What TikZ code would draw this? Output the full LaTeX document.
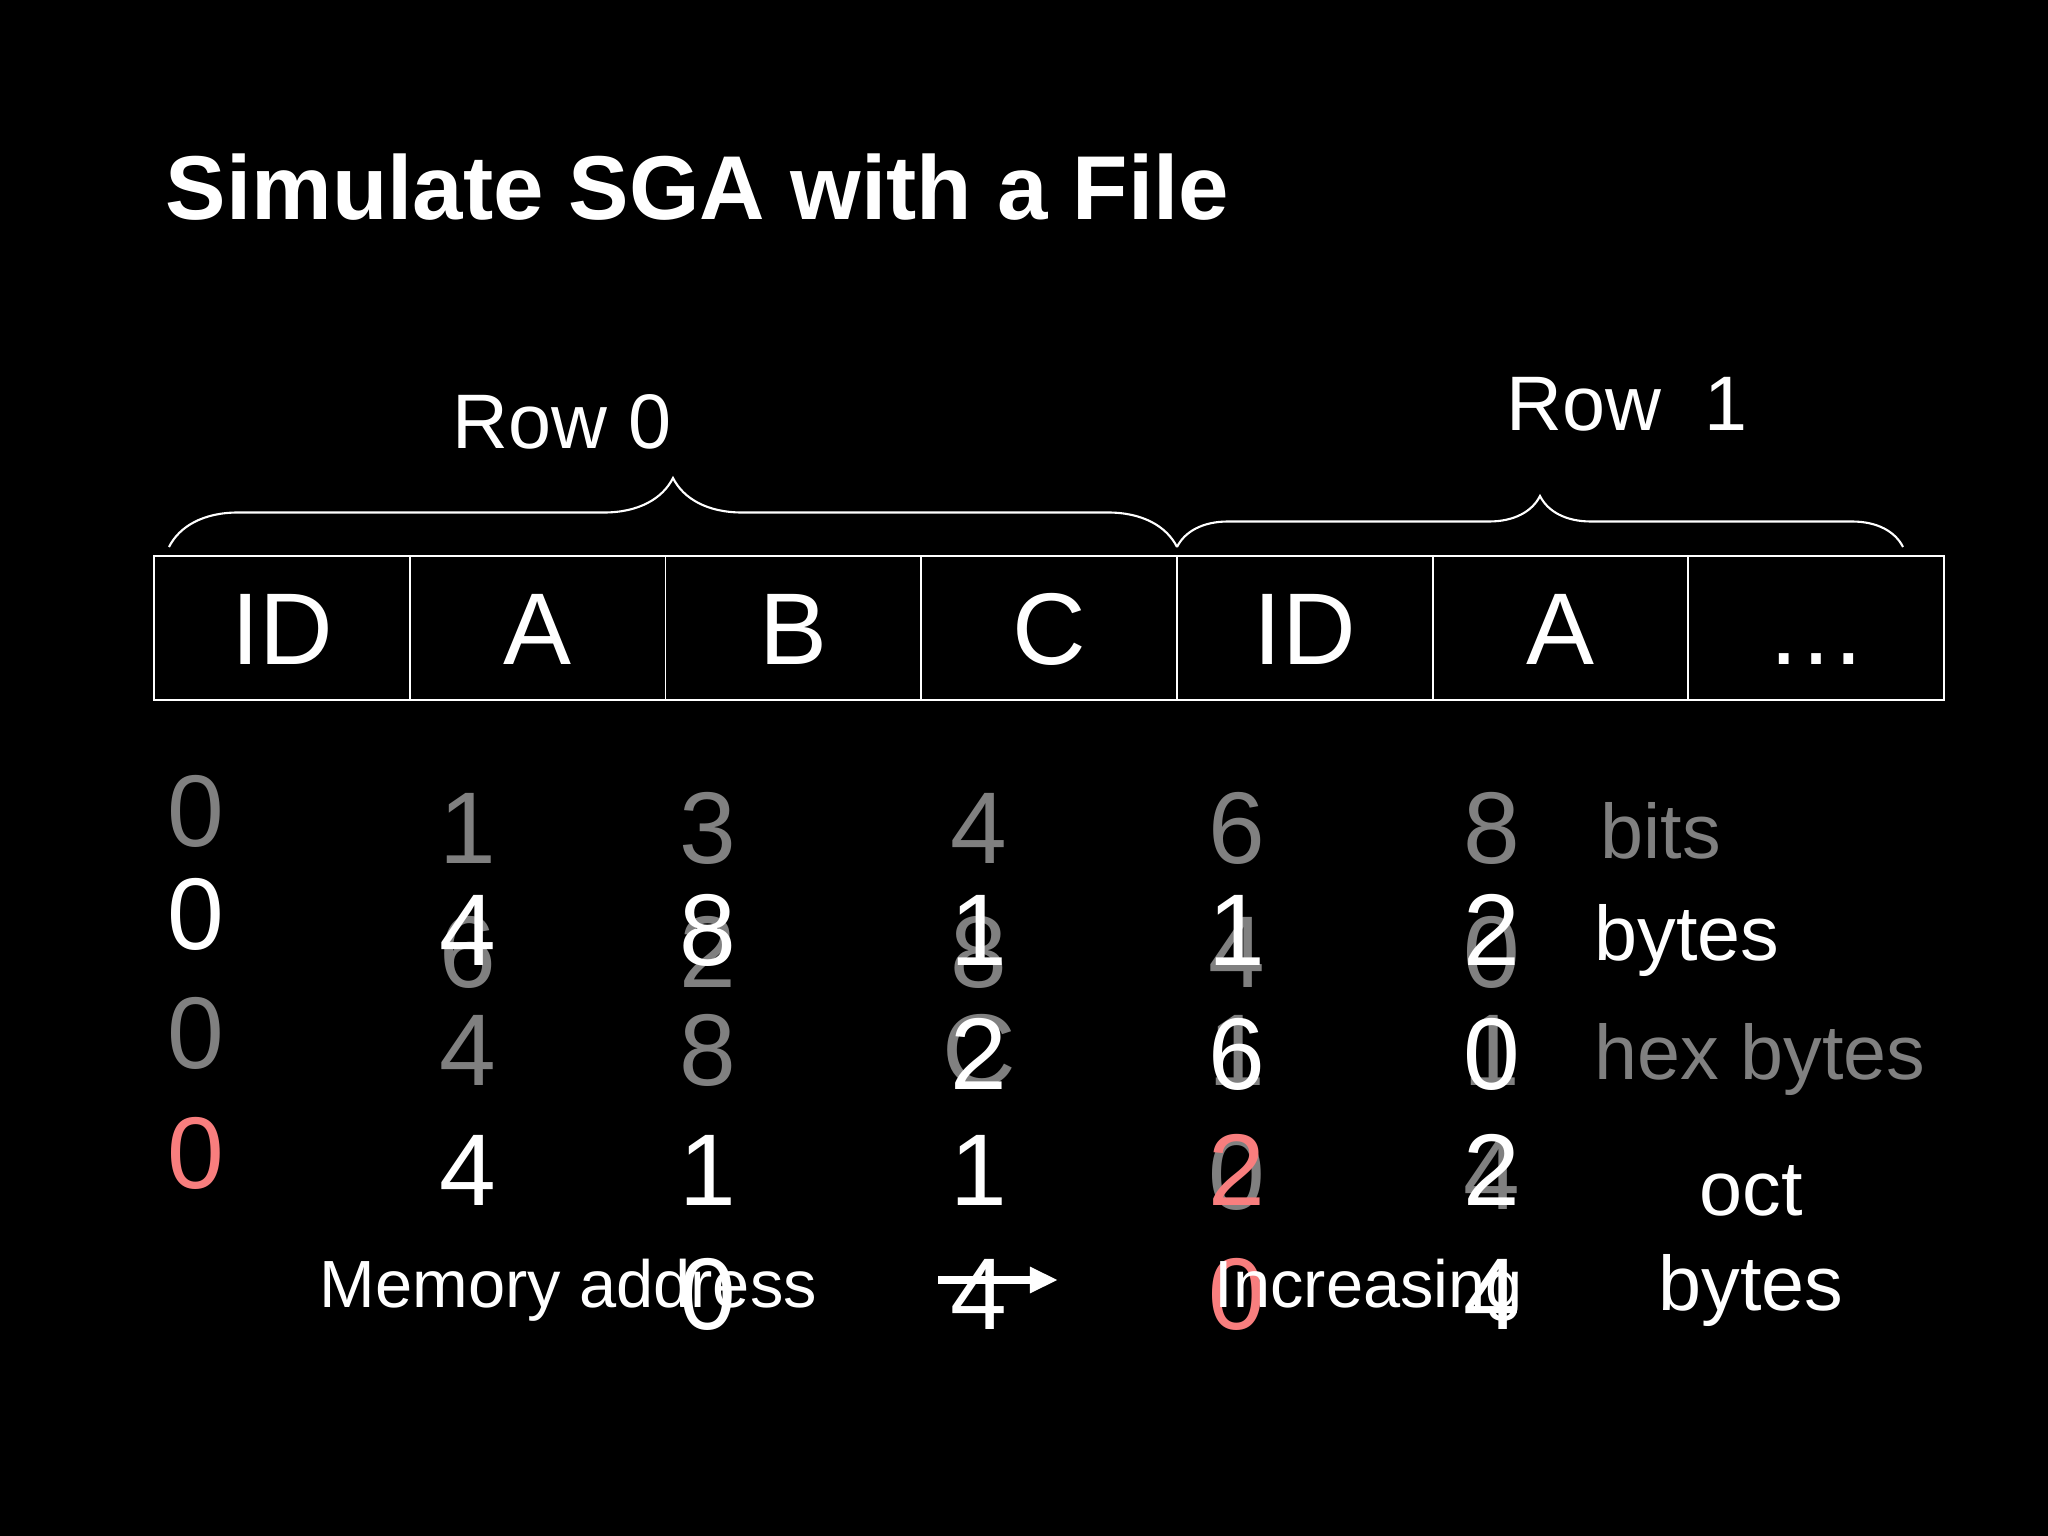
\documentclass[tikz,border=0pt]{standalone}
\usepackage{fontspec}
\setmainfont{Liberation Sans}
\usetikzlibrary{positioning,arrows.meta,decorations.pathreplacing}
\definecolor{dimgrey}{RGB}{128,128,128}
\definecolor{octred}{RGB}{248,126,126}

\begin{document}
\begin{tikzpicture}
	\tikzset{
	  cell/.style={draw=white, line width=0.5pt, outer sep=0pt, minimum width=2.557cm, minimum height=1.44cm, inner sep=0pt, text height=0.73cm, text depth=0pt, text=white, font=\fontsize{29}{35}\selectfont},
	  digit/.style={anchor=base, inner sep=0pt, font=\fontsize{29}{35}\selectfont},
	  unit/.style={anchor=base west, inner sep=0pt, font=\fontsize{22}{26}\selectfont},
	  rowname/.style={anchor=base, inner sep=0pt, text=white, font=\fontsize{22}{26}\selectfont},
	  rowbrace/.style={draw=white, line width=0.6pt, decorate, decoration={brace, amplitude=#1}}
	}
	\fill[black] (0,0) rectangle (20.48,-15.36);
	\useasboundingbox (0,0) rectangle (20.48,-15.36);

	\node[anchor=base west, inner sep=0pt, text=white, font=\fontsize{25.8}{31}\selectfont\bfseries] (title) at (1.65,-2.20) {Simulate SGA with a File};

	% the record layout
	\node[cell] (c1) at (2.82,-6.28) {ID};
	\node[cell, right=0pt of c1] (c2) {A};
	\node[cell, right=0pt of c2] (c3) {B};
	\node[cell, right=0pt of c3] (c4) {C};
	\node[cell, right=0pt of c4] (c5) {ID};
	\node[cell, right=0pt of c5] (c6) {A};
	\node[cell, right=0pt of c6] (c7) {…};

	\coordinate (b0s) at (1.69,-5.47);
	\coordinate (b0e) at (11.77,-5.47);
	\coordinate (b1e) at (19.03,-5.47);
	\draw[rowbrace=0.69cm] (b0s) -- (b0e);
	\draw[rowbrace=0.51cm] (b0e) -- (b1e);
	\node[rowname] (row0) at (5.62,-4.49) {Row 0};
	\node[rowname] (row1) at (16.27,-4.31) {Row~~1};

	% bits
	\node[digit, text=dimgrey] (bits0) at (1.96,-8.47) {0};
	\foreach \n/\x/\a/\b in {1/4.68/1/6, 2/7.08/3/2, 3/9.79/4/8, 4/12.37/6/4, 5/14.92/8/0} {
	  \node[digit, text=dimgrey] (bitsa\n) at (\x,-8.63) {\a};
	  \node[digit, text=dimgrey] (bitsb\n) at (\x,-9.87) {\b};
	}
	\node[unit, text=dimgrey] (bitsname) at (16.00,-8.58) {bits};

	% hex bytes
	\node[digit, text=dimgrey] (hex0) at (1.96,-10.69) {0};
	\node[digit, text=dimgrey] (hexa1) at (4.68,-10.85) {4};
	\node[digit, text=dimgrey] (hexa2) at (7.08,-10.85) {8};
	\node[digit, text=dimgrey] (hexa3) at (9.79,-10.85) {C};
	\foreach \n/\x/\a/\b in {4/12.37/1/0, 5/14.92/1/4} {
	  \node[digit, text=dimgrey] (hexa\n) at (\x,-10.85) {\a};
	  \node[digit, text=dimgrey] (hexb\n) at (\x,-12.09) {\b};
	}
	\node[unit, text=dimgrey] (hexname) at (15.94,-10.79) {hex bytes};

	% bytes
	\node[digit, text=white] (bytes0) at (1.96,-9.49) {0};
	\node[digit, text=white] (bytesa1) at (4.68,-9.65) {4};
	\node[digit, text=white] (bytesa2) at (7.08,-9.65) {8};
	\foreach \n/\x/\a/\b in {3/9.79/1/2, 4/12.37/1/6, 5/14.92/2/0} {
	  \node[digit, text=white] (bytesa\n) at (\x,-9.65) {\a};
	  \node[digit, text=white] (bytesb\n) at (\x,-10.89) {\b};
	}
	\node[unit, text=white] (bytesname) at (15.94,-9.60) {bytes};

	% oct bytes
	\node[digit, text=octred] (oct0) at (1.96,-11.88) {0};
	\node[digit, text=white] (octa1) at (4.68,-12.05) {4};
	\foreach \n/\x/\a/\b/\c in {2/7.08/1/0/white, 3/9.79/1/4/white, 4/12.37/2/0/octred, 5/14.92/2/4/white} {
	  \node[digit, text=\c] (octa\n) at (\x,-12.05) {\a};
	  \node[digit, text=\c] (octb\n) at (\x,-13.29) {\b};
	}
	\node[rowname] (octname) at (17.51,-12.15) {oct};
	\node[rowname] (octbytes) at (17.51,-13.10) {bytes};

	% memory address increasing
	\node[anchor=base west, inner sep=0pt, text=white, font=\fontsize{19}{23}\selectfont] (memaddr) at (3.19,-13.07) {Memory address};
	\node[anchor=base west, inner sep=0pt, text=white, font=\fontsize{19}{23}\selectfont] (incr) at (12.14,-13.07) {Increasing};
	\coordinate (arrS) at (9.38,-12.80);
	\coordinate (arrE) at (10.58,-12.80);
	\draw[white, line width=2pt, -{Triangle[length=8pt,width=7pt]}] (arrS) -- (arrE);
\end{tikzpicture}
\end{document}
